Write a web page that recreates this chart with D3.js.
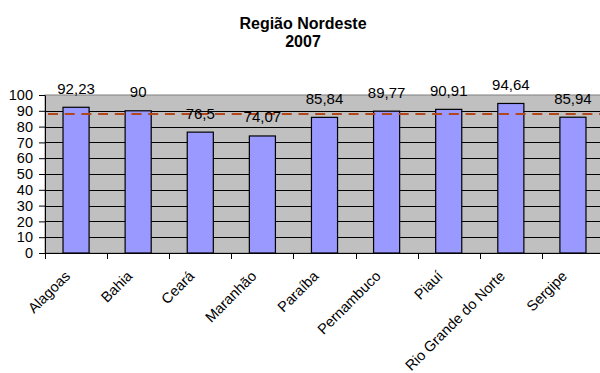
<!DOCTYPE html>
<html>
<head>
<meta charset="utf-8">
<script src="https://cdn.jsdelivr.net/npm/d3@7"></script>
<style>
  html, body { margin: 0; padding: 0; background: #fff; }
  svg { display: block; font-family: "Liberation Sans", Arial, sans-serif; }
</style>
</head>
<body>
<svg id="chart" width="600" height="373"></svg>
<script>
// Taxa por estado, Região Nordeste, 2007
const states = ["Alagoas", "Bahia", "Ceará", "Maranhão", "Paraíba", "Pernambuco", "Piauí", "Rio Grande do Norte", "Sergipe"];
const values = [92.23, 90, 76.5, 74.07, 85.84, 89.77, 90.91, 94.64, 85.94];
const valueLabels = ["92,23", "90", "76,5", "74,07", "85,84", "89,77", "90,91", "94,64", "85,94"];
const referenceValue = [88];
const yTicks = [0, 10, 20, 30, 40, 50, 60, 70, 80, 90, 100];
const titleLines = ["Região Nordeste", "2007"];

const svg = d3.select("#chart");
const plot = { left: 45, right: 604, top: 95, bottom: 253 };

const xBand = d3.scaleBand().domain(states).range([plot.left, plot.right]);
const barW = xBand.bandwidth() * 0.42;
const barX = d => xBand(d) + (xBand.bandwidth() - barW) / 2;
const y = d3.scaleLinear().domain([0, 100]).range([plot.bottom, plot.top]);

// plot area
svg.append("rect")
  .attr("x", plot.left).attr("y", plot.top)
  .attr("width", plot.right - plot.left).attr("height", plot.bottom - plot.top)
  .attr("fill", "#c0c0c0").attr("stroke", "#808080").attr("stroke-width", 1);

// gridlines
svg.append("g").selectAll("line").data(yTicks.filter(t => t > 0 && t < 100)).join("line")
  .attr("x1", plot.left).attr("x2", plot.right)
  .attr("y1", d => Math.round(y(d)) + 0.5).attr("y2", d => Math.round(y(d)) + 0.5)
  .attr("stroke", "#000").attr("stroke-width", 1);

// bars
svg.append("g").selectAll("rect").data(values).join("rect")
  .attr("x", (d, i) => barX(states[i]))
  .attr("y", d => y(d))
  .attr("width", barW)
  .attr("height", d => y(0) - y(d))
  .attr("fill", "#9999ff").attr("stroke", "#000").attr("stroke-width", 1.2);

// reference line
svg.append("g").selectAll("line").data(referenceValue).join("line")
  .attr("x1", plot.left).attr("x2", plot.right)
  .attr("y1", d => y(d)).attr("y2", d => y(d))
  .attr("stroke", "#b4461c").attr("stroke-width", 2)
  .attr("stroke-dasharray", "10,6.7")
  .attr("stroke-dashoffset", -3);

// value labels
svg.append("g").selectAll("text").data(values).join("text")
  .attr("x", (d, i) => xBand(states[i]) + xBand.bandwidth() / 2)
  .attr("y", d => y(d) - 13.5)
  .attr("text-anchor", "middle")
  .attr("font-size", 15)
  .attr("fill", "#000")
  .text((d, i) => valueLabels[i]);

// y axis
const yAxis = svg.append("g")
  .attr("transform", `translate(${plot.left},0)`)
  .call(d3.axisLeft(y).tickValues(yTicks).tickSize(6).tickSizeOuter(0).tickPadding(6));
yAxis.select(".domain").attr("stroke", "#000");
yAxis.selectAll("text").attr("font-size", 14.5).attr("font-family", "Liberation Sans, Arial, sans-serif").attr("fill", "#000");

// x axis line and ticks between categories
const xAxisG = svg.append("g");
xAxisG.append("line")
  .attr("x1", plot.left).attr("x2", plot.right)
  .attr("y1", plot.bottom + 0.5).attr("y2", plot.bottom + 0.5)
  .attr("stroke", "#000");
xAxisG.selectAll("line.tick").data(states).join("line").attr("class", "tick")
  .attr("x1", d => Math.round(xBand(d)) + 0.5).attr("x2", d => Math.round(xBand(d)) + 0.5)
  .attr("y1", plot.bottom).attr("y2", plot.bottom + 6)
  .attr("stroke", "#000");

// category labels
xAxisG.selectAll("text").data(states).join("text")
  .attr("transform", d => `translate(${xBand(d) + xBand.bandwidth() / 2 - 5},${plot.bottom + 24}) rotate(-45)`)
  .attr("text-anchor", "end")
  .attr("font-size", 14.5)
  .attr("fill", "#000")
  .text(d => d);

// title
svg.append("g").selectAll("text").data(titleLines).join("text")
  .attr("x", 303)
  .attr("y", (d, i) => 29 + i * 18)
  .attr("text-anchor", "middle")
  .attr("font-size", 16)
  .attr("font-weight", "bold")
  .attr("fill", "#000")
  .text(d => d);
</script>
</body>
</html>
